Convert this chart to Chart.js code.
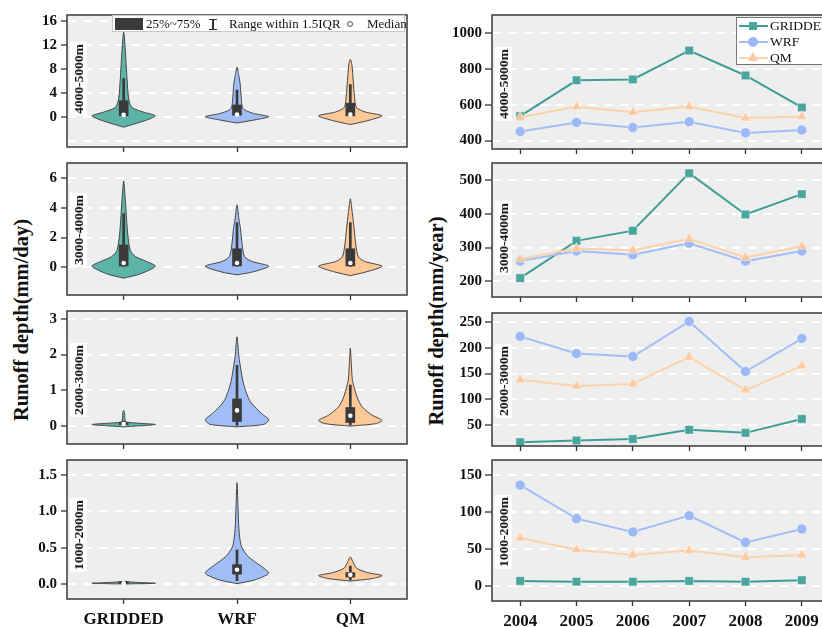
<!DOCTYPE html>
<html><head><meta charset="utf-8">
<script src="https://cdn.jsdelivr.net/npm/chart.js@4.4.1/dist/chart.umd.min.js"></script>
<style>
html,body{margin:0;padding:0;overflow:hidden;width:822px;height:627px;background:#fff;}
body{position:relative;font-family:"Liberation Serif","Times New Roman",serif;color:#111;}
canvas{position:absolute;}
.band{position:absolute;background:#fff;font-weight:bold;font-size:13.5px;line-height:17px;width:17px;writing-mode:vertical-rl;transform:translateY(-50%) rotate(180deg);text-align:center;padding:2px 0;white-space:nowrap;}
.ytitle{position:absolute;font-weight:bold;font-size:20.5px;white-space:nowrap;transform:translate(-50%,-50%) rotate(-90deg);}
.lg{position:absolute;white-space:nowrap;}
</style></head><body>
<div class="ytitle" style="left:21px;top:320px;">Runoff depth(mm/day)</div>
<div class="ytitle" style="left:436px;top:321px;">Runoff depth(mm/year)</div>
<script>
// ---------------- DATA ----------------
const groups = ['GRIDDED', 'WRF', 'QM'];
const years = ['2004', '2005', '2006', '2007', '2008', '2009'];
const bands = ['4000-5000m', '3000-4000m', '2000-3000m', '1000-2000m'];

// Annual runoff depth (mm/year)
const gridded_4000 = [537, 737, 742, 903, 764, 585];
const wrf_4000     = [451, 501, 473, 505, 443, 459];
const qm_4000      = [531, 589, 558, 590, 526, 535];
const gridded_3000 = [210, 320, 350, 520, 398, 458];
const wrf_3000     = [260, 290, 279, 313, 260, 290];
const qm_3000      = [266, 297, 292, 326, 271, 304];
const gridded_2000 = [17, 20, 23, 41, 35, 62];
const wrf_2000     = [222, 189, 183, 251, 154, 218];
const qm_2000      = [138, 126, 130, 182, 118, 165];
const gridded_1000 = [7, 6, 6, 7, 6, 8];
const wrf_1000     = [136, 91, 73, 95, 59, 77];
const qm_1000      = [65, 49, 42, 48, 39, 42];

// Daily runoff depth violins (mm/day): [value, relative half-width]
const vio_4000_GRIDDED = [[-1.7,0],[-1.0,0.44],[-0.3,0.83],[0.2,1],[0.83,0.62],[1.6,0.26],[3.0,0.16],[6.1,0.11],[8.7,0.08],[11.3,0.05],[14.2,0]];
const vio_4000_WRF     = [[-1.0,0],[-0.47,0.57],[0.05,1],[0.6,0.52],[1.4,0.19],[3.45,0.13],[5.5,0.1],[7.1,0.05],[8.3,0]];
const vio_4000_QM      = [[-1.25,0],[-0.63,0.53],[0.2,1],[0.83,0.47],[1.6,0.19],[3.45,0.13],[6.1,0.09],[8.7,0.05],[9.6,0]];
const vio_3000_GRIDDED = [[-0.72,0],[-0.44,0.52],[0.08,1],[0.4,0.72],[0.72,0.38],[1.14,0.21],[2.2,0.13],[3.25,0.09],[4.3,0.06],[5.8,0]];
const vio_3000_WRF     = [[-0.5,0],[-0.3,0.5],[0.08,1],[0.4,0.47],[0.72,0.24],[1.56,0.16],[2.6,0.11],[3.25,0.06],[4.2,0]];
const vio_3000_QM      = [[-0.55,0],[-0.3,0.5],[0.08,1],[0.4,0.45],[0.72,0.25],[1.56,0.17],[2.6,0.12],[3.67,0.06],[4.6,0]];
const vio_2000_GRIDDED = [[-0.02,0],[0.045,1],[0.09,0.35],[0.13,0.06],[0.35,0.03],[0.44,0]];
const vio_2000_WRF     = [[-0.02,0],[0.05,0.85],[0.18,1],[0.35,0.78],[0.53,0.57],[0.71,0.4],[0.97,0.28],[1.24,0.19],[1.59,0.12],[1.94,0.06],[2.5,0]];
const vio_2000_QM      = [[0,0],[0.07,0.8],[0.16,1],[0.31,0.68],[0.53,0.38],[0.79,0.22],[1.15,0.1],[1.32,0.06],[1.76,0.03],[2.18,0]];
const vio_1000_GRIDDED = [[0.005,0],[0.015,1],[0.03,0.3],[0.04,0]];
const vio_1000_WRF     = [[0.01,0],[0.06,0.55],[0.13,0.95],[0.16,1],[0.22,0.85],[0.31,0.56],[0.4,0.31],[0.53,0.13],[0.76,0.06],[1.08,0.03],[1.39,0]];
const vio_1000_QM      = [[0.045,0],[0.08,0.7],[0.12,1],[0.16,0.55],[0.22,0.2],[0.31,0.08],[0.375,0]];

// Box statistics per band (GRIDDED, WRF, QM)
const q1_day  = [[0.2,0.3,0.2],[0.1,0.1,0.1],[0.04,0.13,0.1],[0.012,0.14,0.1]];
const q3_day  = [[2.7,2.0,2.3],[1.5,1.25,1.25],[0.08,0.76,0.52],[0.02,0.27,0.16]];
const med_day = [[0.35,0.4,0.4],[0.3,0.3,0.3],[0.06,0.44,0.29],[0.015,0.2,0.13]];
const lo_day  = [[0,0,0],[0,0,0],[0.01,0.02,0.03],[0.01,0.05,0.06]];
const hi_day  = [[6.4,4.5,5.4],[3.6,3.0,3.0],[0.14,1.7,1.15],[0.03,0.47,0.25]];

// Axis ranges and ticks
const yMin_day = [-5, -1.85, -0.5, -0.2];
const yMax_day = [17, 7, 3.22, 1.7];
const yTicks_day = [[-4,0,4,8,12,16],[0,2,4,6],[0,1,2,3],[0,0.5,1,1.5]];
const yMin_yr = [353, 154, 9.5, -20];
const yMax_yr = [1102, 550, 267.5, 170];
const yTicks_yr = [[400,600,800,1000],[200,300,400,500],[50,100,150,200,250],[0,50,100,150]];

const violins = [
  [vio_4000_GRIDDED, vio_4000_WRF, vio_4000_QM],
  [vio_3000_GRIDDED, vio_3000_WRF, vio_3000_QM],
  [vio_2000_GRIDDED, vio_2000_WRF, vio_2000_QM],
  [vio_1000_GRIDDED, vio_1000_WRF, vio_1000_QM]
];
const annual = [
  [gridded_4000, wrf_4000, qm_4000],
  [gridded_3000, wrf_3000, qm_3000],
  [gridded_2000, wrf_2000, qm_2000],
  [gridded_1000, wrf_1000, qm_1000]
];

// ---------------- STYLE / LAYOUT ----------------
const vioFill = ['#5cb3a8', '#a0bdf5', '#fcc898'];
const lineCol = ['#3e9e95', '#a3bdf6', '#fcd2ab'];
const markCol = ['#4aa59c', '#9cb9f5', 'rgba(252,200,155,0.9)'];
const markStyle = ['rect', 'circle', 'triangle'];
const markRad = [6, 5, 6];
const HALF = 0.28;
const Ltop = [14, 162, 310, 459], Lbot = [154, 302, 451, 599];
const Rtop = [15, 163, 313, 460], Rbot = [155, 303, 452, 601];
const labL = [79, 230, 380, 535], labR = [84, 238, 381, 532];
const FONT = 'Liberation Serif';

const framePlugin = {
  id: 'frame',
  beforeDraw(c) { const {ctx, chartArea: a} = c; ctx.save(); ctx.fillStyle = '#eeeeee'; ctx.fillRect(a.left, a.top, a.right - a.left, a.bottom - a.top); ctx.restore(); },
  afterDraw(c) { const {ctx, chartArea: a} = c; ctx.save(); ctx.strokeStyle = '#3a3a3a'; ctx.lineWidth = 1.5; ctx.strokeRect(a.left, a.top, a.right - a.left, a.bottom - a.top); ctx.restore(); }
};

function makeCanvas(left, top, w, h) {
  const c = document.createElement('canvas');
  c.width = w; c.height = h;
  c.style.left = left + 'px'; c.style.top = top + 'px';
  c.style.width = w + 'px'; c.style.height = h + 'px';
  document.body.appendChild(c);
  return c;
}
function bandLabel(text, left, cy) {
  const d = document.createElement('div');
  d.className = 'band'; d.textContent = text;
  d.style.left = left + 'px'; d.style.top = cy + 'px';
  document.body.appendChild(d);
}

function violinPanel(r) {
  const t = Ltop[r], b = Lbot[r], isBottom = r === 3;
  const xh = isBottom ? 28 : 6;
  const cv = makeCanvas(0, t - 12, 420, b - t + 12 + xh);
  const datasets = [];
  violins[r].forEach((prof, g) => {
    const pts = prof.map(([v, w]) => ({x: g + w * HALF, y: v}));
    for (let i = prof.length - 2; i >= 0; i--) pts.push({x: g - prof[i][1] * HALF, y: prof[i][0]});
    datasets.push({type: 'line', data: pts, fill: 'shape', backgroundColor: vioFill[g], borderColor: '#474747', borderWidth: 1, pointRadius: 0, tension: 0.25, order: 4});
  });
  datasets.push({type: 'bar', grouped: false, data: groups.map((_, g) => ({x: g, y: [lo_day[r][g], hi_day[r][g]]})), backgroundColor: '#3a3a3a', barThickness: 2, order: 3});
  datasets.push({type: 'bar', grouped: false, data: groups.map((_, g) => ({x: g, y: [q1_day[r][g], q3_day[r][g]]})), backgroundColor: '#3a3a3a', barThickness: 9, minBarLength: 2, order: 2});
  datasets.push({type: 'scatter', data: groups.map((_, g) => ({x: g, y: med_day[r][g]})), pointRadius: 2.3, pointBackgroundColor: '#ffffff', pointBorderWidth: 0, order: 1});
  new Chart(cv, {
    type: 'line',
    data: {datasets},
    options: {
      responsive: false, animation: false, devicePixelRatio: 1,
      layout: {padding: {top: 12, right: 13, left: 0, bottom: 0}},
      plugins: {legend: {display: false}, tooltip: {enabled: false}},
      scales: {
        x: {type: 'linear', min: -0.5, max: 2.5, offset: false,
          afterBuildTicks: s => { s.ticks = groups.map((_, i) => ({value: i})); },
          afterFit: s => { s.height = xh; },
          grid: {drawOnChartArea: false, offset: false, tickLength: 5, tickColor: '#333', tickWidth: 1.3},
          border: {display: false},
          ticks: {padding: 5, color: '#111', maxRotation: 0, autoSkip: false, font: {family: FONT, weight: 'bold', size: 17},
            callback: v => isBottom ? groups[v] : ''}
        },
        y: {type: 'linear', min: yMin_day[r], max: yMax_day[r],
          afterBuildTicks: s => { s.ticks = yTicks_day[r].map(v => ({value: v})); },
          afterFit: s => { s.width = 67; },
          grid: {color: '#ffffff', lineWidth: 2, tickLength: 6, tickWidth: 1.3,
            tickColor: c => (c.tick && c.tick.value < 0) ? 'rgba(0,0,0,0)' : '#333'},
          border: {display: false, dash: [9, 7]},
          ticks: {padding: 4, color: '#111', font: {family: FONT, weight: 'bold', size: 15},
            callback: v => v < 0 ? '' : (r === 3 ? Number(v).toFixed(1) : String(v))}
        }
      }
    },
    plugins: [framePlugin]
  });
  bandLabel(bands[r], 70, labL[r]);
}

function linePanel(r) {
  const t = Rtop[r], b = Rbot[r], isBottom = r === 3;
  const xh = isBottom ? 28 : 6;
  const cv = makeCanvas(420, t - 12, 420, b - t + 12 + xh);
  const datasets = annual[r].map((vals, g) => ({
    label: groups[g], data: vals, borderColor: lineCol[g], borderWidth: 2,
    pointStyle: markStyle[g], pointRadius: markRad[g], pointBackgroundColor: markCol[g],
    pointBorderColor: 'rgba(255,255,255,0.55)', pointBorderWidth: 0.8, order: 3 - g, tension: 0
  }));
  new Chart(cv, {
    type: 'line',
    data: {labels: years, datasets},
    options: {
      responsive: false, animation: false, devicePixelRatio: 1,
      layout: {padding: {top: 12, right: 10, left: 0, bottom: 0}},
      plugins: {legend: {display: false}, tooltip: {enabled: false}},
      scales: {
        x: {type: 'category', offset: true,
          afterFit: s => { s.height = xh; },
          grid: {drawOnChartArea: false, offset: false, tickLength: 5, tickColor: '#333', tickWidth: 1.3},
          border: {display: false},
          ticks: {padding: 5, color: '#111', maxRotation: 0, autoSkip: false, font: {family: FONT, weight: 'bold', size: 17},
            callback: (v, i) => isBottom ? years[i] : ''}
        },
        y: {type: 'linear', min: yMin_yr[r], max: yMax_yr[r],
          afterBuildTicks: s => { s.ticks = yTicks_yr[r].map(v => ({value: v})); },
          afterFit: s => { s.width = 72; },
          grid: {color: '#ffffff', lineWidth: 2, tickLength: 7, tickWidth: 1.3, tickColor: '#333'},
          border: {display: false, dash: [9, 7]},
          ticks: {padding: 3, color: '#111', font: {family: FONT, weight: 'bold', size: 15}, callback: v => String(v)}
        }
      }
    },
    plugins: [framePlugin]
  });
  bandLabel(bands[r], 495, labR[r]);
}

for (let r = 0; r < 4; r++) { violinPanel(r); linePanel(r); }

// ---------------- LEGENDS ----------------
function el(html) { const d = document.createElement('div'); d.innerHTML = html; document.body.appendChild(d.firstElementChild); }
el(`<div style="position:absolute;left:112px;top:15px;width:293px;height:17px;background:#fff;border:1px solid #c8c8c8;box-sizing:border-box;font-size:13px;">
  <div style="position:absolute;left:2px;top:2px;width:28px;height:12px;background:#3a3a3a"></div>
  <span class="lg" style="left:33px;top:0;line-height:16px">25%~75%</span>
  <div style="position:absolute;left:99px;top:3px;width:1.5px;height:10px;background:#333"></div>
  <div style="position:absolute;left:96px;top:2.5px;width:8px;height:1.3px;background:#333"></div>
  <div style="position:absolute;left:96px;top:12.5px;width:8px;height:1.3px;background:#333"></div>
  <span class="lg" style="left:116px;top:0;line-height:16px">Range within 1.5IQR</span>
  <div style="position:absolute;left:234px;top:5px;width:4px;height:4px;border:1px solid #555;border-radius:50%;background:#fff"></div>
  <span class="lg" style="left:254px;top:0;line-height:16px">Median</span>
</div>`);
el(`<div style="position:absolute;left:736px;top:17px;width:100px;height:48px;background:#fff;border:1px solid #777;box-sizing:border-box;font-size:13.5px;">
  <div style="position:absolute;left:2px;top:7px;width:29px;height:2px;background:${lineCol[0]}"></div>
  <div style="position:absolute;left:12px;top:4px;width:8px;height:8px;background:${markCol[0]}"></div>
  <span class="lg" style="left:33px;top:0px;line-height:16px">${groups[0]}</span>
  <div style="position:absolute;left:2px;top:23px;width:29px;height:2px;background:${lineCol[1]}"></div>
  <div style="position:absolute;left:11px;top:19px;width:10px;height:10px;border-radius:50%;background:${markCol[1]}"></div>
  <span class="lg" style="left:33px;top:16px;line-height:16px">${groups[1]}</span>
  <div style="position:absolute;left:2px;top:39px;width:29px;height:2px;background:${lineCol[2]}"></div>
  <div style="position:absolute;left:11px;top:34px;width:0;height:0;border-left:5px solid transparent;border-right:5px solid transparent;border-bottom:9px solid #fcc99c"></div>
  <span class="lg" style="left:33px;top:32px;line-height:16px">${groups[2]}</span>
</div>`);
</script>
</body></html>
